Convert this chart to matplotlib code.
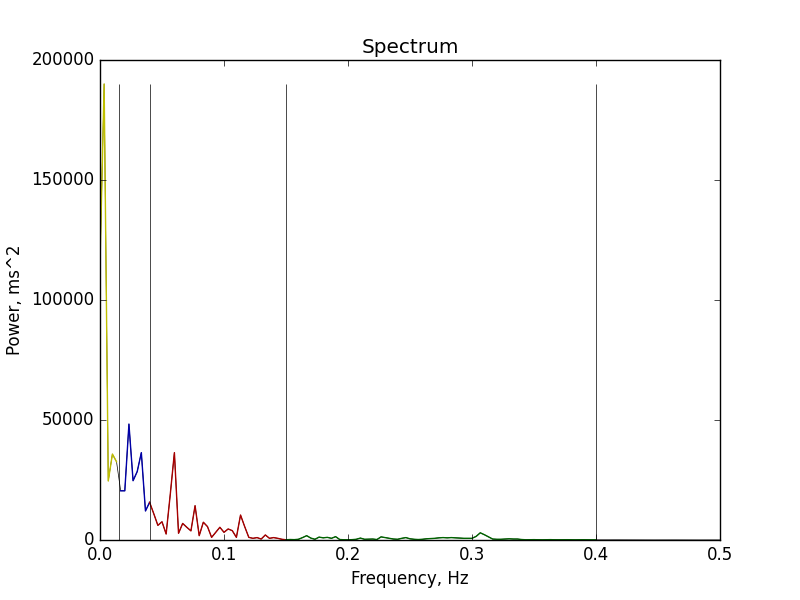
import numpy as np
import matplotlib
matplotlib.use("Agg")
import matplotlib.pyplot as plt

# spectral resolution (Hz per bin)
df = 1.0 / 300.0

power = [
    115000, 190000, 24600, 35800, 32600, 20500, 20500, 48300, 24700, 28500,
    36400, 12100, 15700, 11000, 6100, 7600, 2500, 19000, 36400, 2800,
    6900, 5300, 3800, 14300, 1800, 7400, 5600, 1100, 3200, 5300,
    3200, 4600, 3900, 1100, 10400, 5600, 1100, 700, 1000, 400,
    2100, 700, 1000, 700, 300, 100, 200, 150, 300, 1000,
    1800, 800, 300, 1200, 900, 1100, 700, 1400, 200, 100,
    80, 150, 300, 800, 300, 350, 400, 200, 1300, 1000,
    700, 400, 300, 700, 1000, 500, 300, 200, 300, 500,
    600, 700, 900, 1000, 900, 1000, 900, 800, 700, 700,
    700, 1500, 3000, 2200, 1300, 400, 300, 300, 400, 500,
    400, 400, 200, 100, 120, 150, 100, 80, 120, 150,
    100, 90, 110, 130, 100, 80, 100, 120, 90, 70,
    80, 100, 90, 70, 60, 80, 90, 70, 60, 50,
    60, 70, 60, 50, 40, 50, 60, 50, 40, 50,
    40, 30, 40, 50, 40, 30, 40, 30, 30, 40,
    30,
]
band_edges = [0.0, 0.015, 0.04, 0.15, 0.4]
band_colors = ["#c0c000", "#0000a8", "#a80000", "#006400"]

power = np.array(power, dtype=float)
freqs = np.arange(len(power)) * df

plt.style.use("classic")
fig = plt.figure(figsize=(8, 6), dpi=100, facecolor="white")
ax = fig.add_subplot(111)

ax.plot(freqs, power, color="k", lw=0.5)
eps = 1e-9
for i, c in enumerate(band_colors):
    lo, hi = band_edges[i], band_edges[i + 1]
    if i == 0:
        m = (freqs >= lo - eps) & (freqs < hi - eps)
    else:
        m = (freqs >= lo - eps) & (freqs <= hi + eps)
    ax.plot(freqs[m], power[m], color=c, lw=1.0)

ax.vlines(band_edges[1:], 0, power.max(), color="k", lw=0.5)

ax.set_xlim(0, 0.5)
ax.set_ylim(0, 200000)
ax.set_title("Spectrum")
ax.set_xlabel("Frequency, Hz")
ax.set_ylabel("Power, ms^2")

fig.savefig("out.png", dpi=100, facecolor="white")
